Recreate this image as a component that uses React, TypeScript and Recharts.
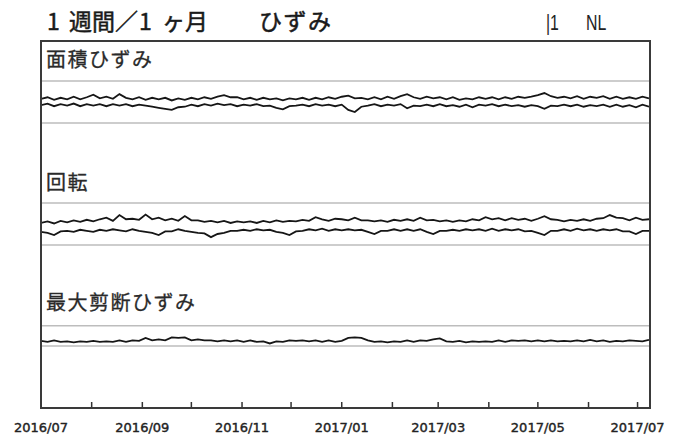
import React from 'react';
import { LineChart, Line, XAxis, YAxis, ReferenceLine } from 'recharts';

// samples every 4 days starting 2016/07/01 (day 0)
const DAY_STEP = 4;

const areaUpper = [
  3, 4.5, 2, 4, 2.5, 5, 2.5, 4.5, 7, 3.5,
  5, 3, 7.5, 4, 2.5, 4.5, 2, 4, 2.5, 4,
  1.5, 3.5, 2, 4, 2.5, 4.5, 3, 5, 6.5, 4.5,
  4.5, 2.5, 4, 2, 4, 2.5, 3.5, 1.5, 3.5, 2.5,
  4, 2, 4, 2.5, 4.5, 3, 5, 6, 3.5, 4,
  2.5, 4.5, 2.5, 5, 3, 5.5, 7.5, 4.5, 3, 5,
  3.5, 4.5, 2.5, 4.5, 2, 3.5, 2.5, 4.5, 3, 4.5,
  2.5, 4.5, 3, 5, 4, 5, 6.5, 8.5, 5.5, 4,
  5, 3.5, 5.5, 3, 5, 4, 5.5, 3, 5, 3,
  4.5, 3, 5, 3.5,
];
const areaLower = [
  -3, -1.5, -4, -2, -3.5, -1.5, -4, -2, -3.5, -2,
  -4, -2, -3.5, -2, -4, -2.5, -3.5, -4.5, -5.5, -6.5,
  -7.5, -5, -4.5, -2.5, -4, -2, -3.5, -1.5, -3, -2,
  -4, -2.5, -3.5, -2, -4, -3.5, -5.5, -7, -4, -3.5,
  -2.5, -4, -2, -3.5, -2.5, -4, -2.5, -7.5, -9.5, -4.5,
  -3.5, -2, -4, -2.5, -3.5, -2, -6, -3.5, -4, -2.5,
  -4, -2, -4, -3, -4.5, -2.5, -5, -2.5, -3.5, -2,
  -4, -2.5, -4, -3, -4.5, -3, -4, -6.5, -3.5, -4,
  -2.5, -4, -2.5, -4.5, -3, -4, -2.5, -4.5, -2.5, -4.5,
  -3, -5, -2.5, -4.5,
];
const rotUpper = [
  1, 2.5, 0.5, 3, 1.5, 3.5, 2, 4, 2.5, 4.5,
  6, 3, 8.5, 4.5, 5, 4, 9, 4.5, 6, 3.5,
  5, 3, 7.5, 3.5, 3.5, 2, 3, 1.5, 3, 1,
  2.5, 1.5, 2.5, 1, 3, 1.5, 3.5, 2, 3, 2.5,
  4, 3, 6.5, 4.5, 3, 5, 4.5, 3.5, 6, 3.5,
  3.5, 2.5, 3.5, 2, 4, 3, 4.5, 3, 6, 3.5,
  4, 2.5, 3.5, 2, 3.5, 2.5, 4.5, 3.5, 6.5, 4.5,
  5.5, 3.5, 5.5, 4, 5, 3, 5, 7.5, 4.5, 4,
  2.5, 4, 3, 4.5, 3, 5, 5.5, 8.5, 6, 5.5,
  3.5, 6, 4, 4.5,
];
const rotLower = [
  -7.5, -8.5, -10.5, -7, -6.5, -7.5, -5.5, -6.5, -7.5, -5.5,
  -6.5, -5, -6, -7, -5, -6.5, -7.5, -8.5, -10.5, -7,
  -7, -5, -6.5, -7.5, -8.5, -9, -12.5, -9.5, -8.5, -6.5,
  -6.5, -5.5, -6.5, -5, -6, -5.5, -7.5, -8.5, -10.5, -7,
  -6.5, -5, -6, -4.5, -6.5, -5, -6, -5, -6, -5.5,
  -7.5, -9.5, -6.5, -6.5, -5, -6.5, -5, -6.5, -5, -7.5,
  -9.5, -6.5, -6.5, -5.5, -6.5, -5, -6, -5, -6.5, -4.5,
  -6.5, -5, -6, -5, -7, -6.5, -8.5, -10.5, -6.5, -6.5,
  -5, -6.5, -4.5, -6, -5, -6.5, -5, -6, -5, -7,
  -7, -9.5, -6.5, -6.5,
];
const shearMax = [
  25, 24, 25.5, 24, 24.5, 23.5, 24.5, 24, 25, 24,
  24.5, 24, 25.5, 24, 25.5, 25, 28, 25.5, 26.5, 25.5,
  28.5, 28, 28.5, 25.5, 26.5, 25.5, 25.5, 24.5, 25.5, 24.5,
  25.5, 24, 25.5, 24, 24.5, 22.5, 24.5, 24, 25.5, 25,
  25.5, 24.5, 25.5, 24, 25.5, 24, 25, 28, 28.5, 28,
  25.5, 24, 24.5, 23.5, 24.5, 24, 25.5, 24, 25.5, 25,
  26.5, 27.5, 24.5, 24, 25, 23.5, 24.5, 24, 24.5, 24,
  25.5, 24, 25.5, 25, 25.5, 24.5, 25.5, 24.5, 25.5, 24.5,
  25, 24.5, 25.5, 24.5, 26, 24.5, 25.5, 24, 25, 24.5,
  25.5, 25, 24.5, 26,
];

const monthTicks = [0, 31, 62, 92, 123, 153, 184, 215, 243, 274, 304, 335, 365];
const monthLabels = ['2016/07', '', '2016/09', '', '2016/11', '', '2017/01', '', '2017/03', '', '2017/05', '', '2017/07'];

const areaLimits = [20, -20];
const rotLimits = [20, -20];
const shearLimits = [40, 20];

const X_DOMAIN: [number, number] = [0, 372];

const toRows = (a: number[], b?: number[]) =>
  a.map((v, i) => ({ day: i * DAY_STEP, a: v, b: b ? b[i] : undefined }));

const areaData = toRows(areaUpper, areaLower);
const rotData = toRows(rotUpper, rotLower);
const shearData = toRows(shearMax);

const LINE = '#161616';
const GREY = '#bdbdbd';
const TEXT = '#2a2a2a';
const margin = { top: 0, right: 29, bottom: 0, left: 41 };

const MonthTick = (props: any) => {
  const { x, y, payload } = props;
  const label = monthLabels[monthTicks.indexOf(payload.value)];
  return (
    <g>
      <line x1={x} x2={x} y1={y} y2={y - 5} stroke="#333" strokeWidth={1.5} />
      {label ? (
        <text x={x} y={y + 25} textAnchor="middle" fontSize={13} fontFamily="DejaVu Sans"
          fill="#222" stroke="#222" strokeWidth={0.4}>{label}</text>
      ) : null}
    </g>
  );
};

interface PanelProps {
  data: any[];
  domain: [number, number];
  limits: number[];
  top: number;
  two: boolean;
  axis?: boolean;
}

const Panel = ({ data, domain, limits, top, two, axis }: PanelProps) => (
  <div style={{ position: 'absolute', left: 0, top }}>
    <LineChart width={678} height={axis ? 152 : 122} data={data} margin={margin}>
      {axis ? (
        <XAxis dataKey="day" type="number" domain={X_DOMAIN} allowDataOverflow ticks={monthTicks}
          interval={0} tick={MonthTick} tickLine={false} axisLine={false} tickSize={0} tickMargin={0} height={30} />
      ) : (
        <XAxis dataKey="day" type="number" domain={X_DOMAIN} allowDataOverflow hide />
      )}
      <YAxis domain={domain} allowDataOverflow hide />
      {limits.map(l => (
        <ReferenceLine key={l} y={l} stroke={GREY} strokeWidth={1.5} />
      ))}
      <Line dataKey="a" stroke={LINE} strokeWidth={1.8} dot={false} isAnimationActive={false} />
      {two ? <Line dataKey="b" stroke={LINE} strokeWidth={1.8} dot={false} isAnimationActive={false} /> : null}
    </LineChart>
  </div>
);

const labelStyle: React.CSSProperties = {
  position: 'absolute', left: 46, fontSize: 20, lineHeight: 1, letterSpacing: 1.5, color: TEXT,
  WebkitTextStroke: '0.3px #2a2a2a',
};
const titleStyle: React.CSSProperties = {
  position: 'absolute', top: 9, fontSize: 23, lineHeight: 1, color: '#1a1a1a', whiteSpace: 'nowrap',
  WebkitTextStroke: '0.5px #1a1a1a',
};
const codeStyle: React.CSSProperties = {
  position: 'absolute', top: 12, fontSize: 22, lineHeight: 1, color: '#222',
  fontFamily: '"Liberation Sans"', transform: 'scaleX(0.72)', transformOrigin: 'left top', whiteSpace: 'nowrap',
};

export default function App() {
  return (
    <div style={{ position: 'absolute', left: 0, top: 0, width: 678, height: 437, background: '#fff',
      fontFamily: '"Noto Sans CJK JP", sans-serif', overflow: 'hidden' }}>
      <span style={{ ...titleStyle, left: 47 }}>1</span>
      <span style={{ ...titleStyle, left: 69 }}>週間／</span>
      <span style={{ ...titleStyle, left: 139 }}>1</span>
      <span style={{ ...titleStyle, left: 162 }}>ヶ月</span>
      <span style={{ ...titleStyle, left: 259, letterSpacing: 1.5 }}>ひずみ</span>
      <span style={{ ...codeStyle, left: 546 }}>|1</span>
      <span style={{ ...codeStyle, left: 586 }}>NL</span>

      <Panel data={areaData} domain={[-58, 58]} limits={areaLimits} top={41} two />
      <Panel data={rotData} domain={[-58, 58]} limits={rotLimits} top={163} two />
      <Panel data={shearData} domain={[-40, 80]} limits={shearLimits} top={285} two={false} axis />

      <div style={{ ...labelStyle, top: 49 }}>面積ひずみ</div>
      <div style={{ ...labelStyle, top: 172 }}>回転</div>
      <div style={{ ...labelStyle, top: 292 }}>最大剪断ひずみ</div>

      <div style={{ position: 'absolute', left: 40, top: 40, width: 611, height: 369, boxSizing: 'border-box',
        border: '2px solid #3a3a3a', pointerEvents: 'none' }} />
    </div>
  );
}
